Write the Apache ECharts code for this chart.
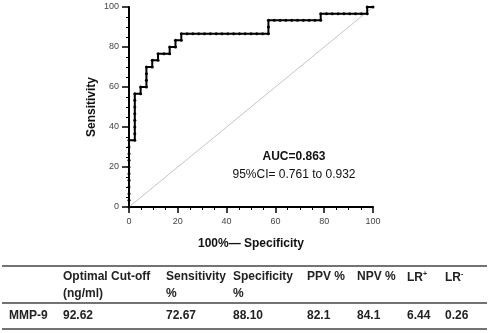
<!DOCTYPE html>
<html>
<head>
<meta charset="utf-8">
<script src="https://cdn.jsdelivr.net/npm/echarts@6/dist/echarts.min.js"></script>
<style>
  html, body { margin: 0; padding: 0; background: #fff; }
  #chart { width: 488px; height: 333px; }
</style>
</head>
<body>
<div id="chart"></div>
<script>
  // ROC points: 100% - specificity (x) and sensitivity (y)
  const fpr = [
    0, 0, 0, 0, 0, 0, 0, 0, 0, 0, 0,
    2.38, 2.38, 2.38, 2.38, 2.38, 2.38, 2.38, 2.38,
    4.76, 4.76,
    7.14, 7.14, 7.14, 7.14,
    9.52, 9.52,
    11.90, 11.90,
    14.29, 16.67, 16.67,
    19.05, 19.05,
    21.43, 21.43,
    23.81, 26.19, 28.57, 30.95, 33.33, 35.71, 38.10, 40.48, 42.86, 45.24, 47.62, 50.00, 52.38, 54.76,
    57.14, 57.14, 57.14,
    59.52, 61.90, 64.29, 66.67, 69.05, 71.43, 73.81, 76.19, 78.57, 78.57,
    80.95, 83.33, 85.71, 88.10, 90.48, 92.86, 95.24, 97.62, 97.62,
    100
  ];
  const tpr = [
    0, 3.33, 6.67, 10, 13.33, 16.67, 20, 23.33, 26.67, 30, 33.33,
    33.33, 36.67, 40, 43.33, 46.67, 50, 53.33, 56.67,
    56.67, 60,
    60, 63.33, 66.67, 70,
    70, 73.33,
    73.33, 76.67,
    76.67, 76.67, 80,
    80, 83.33,
    83.33, 86.67,
    86.67, 86.67, 86.67, 86.67, 86.67, 86.67, 86.67, 86.67, 86.67, 86.67, 86.67, 86.67, 86.67, 86.67,
    86.67, 90, 93.33,
    93.33, 93.33, 93.33, 93.33, 93.33, 93.33, 93.33, 93.33, 93.33, 96.67,
    96.67, 96.67, 96.67, 96.67, 96.67, 96.67, 96.67, 96.67, 100,
    100
  ];
  const refX = [0, 100];
  const refY = [0, 100];

  const aucText = 'AUC=0.863';
  const ciText = '95%CI= 0.761 to 0.932';

  // table
  const headRow1 = ['', 'Optimal Cut-off', 'Sensitivity', 'Specificity', 'PPV %', 'NPV %', '{b|LR}{s|+}', '{b|LR}{s|-}'];
  const headRow2 = ['', '(ng/ml)', '%', '%', '', '', '', ''];
  const dataRow = ['MMP-9', '92.62', '72.67', '88.10', '82.1', '84.1', '6.44', '0.26'];
  const colX = [9, 63, 166, 233, 307, 357, 407, 445];

  const chart = echarts.init(document.getElementById('chart'));
  const font = 'Liberation Sans';
  const tblStyle = {
    fontFamily: font, fontSize: 12, fontWeight: 'bold', fill: '#222',
    rich: {
      b: { fontFamily: font, fontSize: 12, fontWeight: 'bold', color: '#222' },
      s: { fontFamily: font, fontSize: 7, fontWeight: 'bold', color: '#222', verticalAlign: 'top', padding: [0, 0, 6, 0] }
    }
  };

  const graphics = [
    { type: 'text', x: 294, y: 151, style: { text: aucText, fontFamily: font, fontSize: 12, fontWeight: 'bold', fill: '#111', align: 'center' } },
    { type: 'text', x: 294, y: 169, style: { text: ciText, fontFamily: font, fontSize: 12, fill: '#111', align: 'center' } },
    { type: 'line', shape: { x1: 2, y1: 266, x2: 487, y2: 266 }, style: { stroke: '#444', lineWidth: 1.5 } },
    { type: 'line', shape: { x1: 2, y1: 303, x2: 487, y2: 303 }, style: { stroke: '#444', lineWidth: 1.5 } },
    { type: 'line', shape: { x1: 2, y1: 329, x2: 487, y2: 329 }, style: { stroke: '#444', lineWidth: 1.5 } }
  ];
  colX.forEach(function(x, i) {
    [[headRow1[i], 271], [headRow2[i], 288], [dataRow[i], 310]].forEach(function(cell) {
      if (cell[0]) {
        graphics.push({ type: 'text', x: x, y: cell[1], style: Object.assign({ text: cell[0] }, tblStyle) });
      }
    });
  });

  const options = {
    animation: false,
    backgroundColor: '#fff',
    grid: {
      left: 129,
      right: 115,
      top: 7,
      bottom: 126,
      containLabel: false
    },
    xAxis: {
      type: 'value',
      min: 0,
      max: 100,
      interval: 20,
      name: '100%\u2014 Specificity',
      nameLocation: 'middle',
      nameGap: 31,
      nameTextStyle: { fontFamily: font, fontSize: 12, fontWeight: 'bold', color: '#111' },
      axisLine: { show: true, lineStyle: { color: '#000', width: 2 } },
      axisTick: { show: true, length: 6, lineStyle: { color: '#000', width: 1.5 } },
      minorTick: { show: true, splitNumber: 4, length: 3, lineStyle: { color: '#000', width: 1 } },
      axisLabel: { fontFamily: font, fontSize: 9, color: '#444', margin: 10 },
      splitLine: { show: false }
    },
    yAxis: {
      type: 'value',
      min: 0,
      max: 100,
      interval: 20,
      name: 'Sensitivity',
      nameLocation: 'middle',
      nameGap: 31,
      nameTextStyle: { fontFamily: font, fontSize: 12, fontWeight: 'bold', color: '#111' },
      axisLine: { show: true, lineStyle: { color: '#000', width: 2 } },
      axisTick: { show: true, length: 7, lineStyle: { color: '#000', width: 1.5 } },
      minorTick: { show: true, splitNumber: 4, length: 3, lineStyle: { color: '#000', width: 1 } },
      axisLabel: { fontFamily: font, fontSize: 9, color: '#444', margin: 10 },
      splitLine: { show: false }
    },
    series: [
      {
        type: 'line',
        data: refX.map(function(x, i) { return [x, refY[i]]; }),
        symbol: 'none',
        lineStyle: { color: '#c4c4c4', width: 1 },
        z: 1
      },
      {
        type: 'line',
        data: fpr.map(function(x, i) { return [x, tpr[i]]; }),
        symbol: 'circle',
        symbolSize: 3,
        itemStyle: { color: '#000' },
        lineStyle: { color: '#000', width: 2 },
        z: 3
      }
    ],
    graphic: graphics
  };
  chart.setOption(options);
</script>
</body>
</html>
